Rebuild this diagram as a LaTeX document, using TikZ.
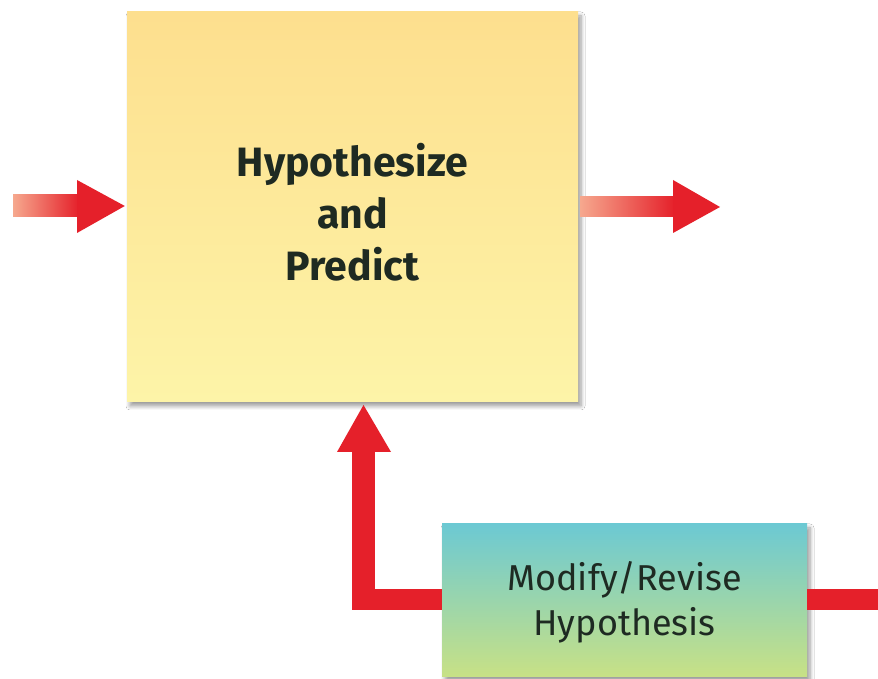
\documentclass[tikz,border=0pt]{standalone}
\usepackage{fontspec}
\newfontfamily\diagfont{Fira Sans}
\usetikzlibrary{shadows.blur}
\definecolor{arrred}{HTML}{E5202A}
\definecolor{arrpale}{HTML}{F6A88E}
\definecolor{yeltop}{HTML}{FDDF8E}
\definecolor{yelbot}{HTML}{FDF4A8}
\definecolor{bluetop}{HTML}{6CC9D3}
\definecolor{bluebot}{HTML}{C8E185}
\definecolor{txtdark}{HTML}{1E2A22}
\tikzset{
  boxshadow/.style={blur shadow={shadow xshift=3pt,shadow yshift=-4pt,shadow blur steps=6,shadow blur radius=4pt,shadow opacity=40}},
  yelbox/.style={rectangle,minimum width=451pt,minimum height=390pt,top color=yeltop,bottom color=yelbot,draw=none,boxshadow},
  bluebox/.style={rectangle,minimum width=365pt,minimum height=153pt,top color=bluetop,bottom color=bluebot,draw=none,boxshadow},
  boldlabel/.style={font=\diagfont\bfseries\fontsize{41}{52}\selectfont,align=center,text=txtdark},
  plainlabel/.style={font=\diagfont\fontsize{36}{45}\selectfont,align=center,text=txtdark},
  shaftfade/.style={left color=arrpale,right color=arrred,draw=none},
  redfill/.style={fill=arrred,draw=none}
}
\begin{document}
\begin{tikzpicture}[x=1pt,y=1pt]
\useasboundingbox (0,0) rectangle (878,679);
\fill[white] (0,0) rectangle (878,679);
% boxes
\node[yelbox] (hyp) at (352.5,472) {};
\node[boldlabel] (hyplabel) at (352.5,467) {Hypothesize\\and\\Predict};
\node[bluebox] (mod) at (624.5,78.5) {};
\node[plainlabel] (modlabel) at (624.5,77) {Modify/Revise\\Hypothesis};
% coordinates
\coordinate (inStart) at (13,473);
\coordinate (inTip) at (hyp.west |- 0,473);
\coordinate (outStart) at (580,472);
\coordinate (outTip) at (720,472);
% left arrow
\fill[shaftfade] (inStart) ++(0,-11) rectangle (79,484);
\fill[redfill] (77,499) -- ([xshift=-2pt]inTip) -- (77,446) -- cycle;
% right arrow
\fill[shaftfade] (outStart) ++(0,-10) rectangle (675,482);
\fill[redfill] (673,499) -- (outTip) -- (673,446) -- cycle;
% feedback arrow
\fill[redfill] (352,69) rectangle (375,229);
\fill[redfill] (352,69) rectangle (mod.west |- 0,90);
\fill[redfill] (337,227) -- (363.5,274) -- (391,227) -- cycle;
\fill[redfill] (mod.east |- 0,69) rectangle (878,90);
\end{tikzpicture}
\end{document}
